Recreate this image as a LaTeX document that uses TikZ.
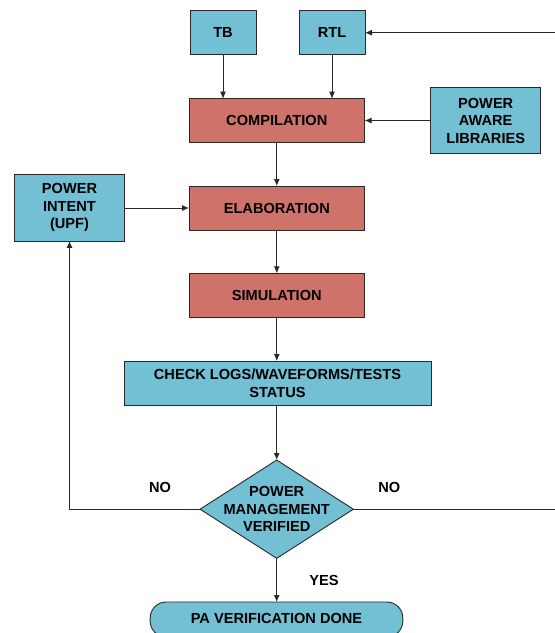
\documentclass[tikz,border=0pt]{standalone}
\usepackage{fontspec}
\setmainfont{Liberation Sans}
\usetikzlibrary{arrows.meta,shapes.geometric}
\definecolor{bluefill}{RGB}{115,191,211}
\definecolor{redfill}{RGB}{206,114,106}
\definecolor{edge}{RGB}{40,40,40}
\begin{document}
\begin{tikzpicture}[x=1pt,y=-1pt,
  every node/.style={font=\fontsize{14.6}{17.5}\selectfont\bfseries, align=center, inner sep=0pt, outer sep=0pt},
  bluebox/.style={draw=edge, line width=0.9pt, fill=bluefill},
  redbox/.style={draw=edge, line width=0.9pt, fill=redfill},
  arr/.style={draw=edge, line width=0.9pt, -{Latex[length=7pt,width=6pt]}},
  lbl/.style={}]
\useasboundingbox (0,0) rectangle (555,633);
\node[bluebox, minimum width=66pt, minimum height=44pt] (tb) at (223,32) {TB};
\node[bluebox, minimum width=66pt, minimum height=44pt] (rtl) at (332,32) {RTL};
\node[redbox, minimum width=175.5pt, minimum height=43.6pt] (comp) at (276.8,120.5) {COMPILATION};
\node[bluebox, minimum width=110pt, minimum height=66.4pt] (pal) at (485.7,120.5) {POWER\\AWARE\\LIBRARIES};
\node[bluebox, minimum width=109.6pt, minimum height=66.3pt] (pi) at (69.5,207.8) {POWER\\INTENT\\(UPF)};
\node[redbox, minimum width=175.5pt, minimum height=44pt] (elab) at (276.8,208) {ELABORATION};
\node[redbox, minimum width=175.5pt, minimum height=44pt] (sim) at (276.8,295.3) {SIMULATION};
\node[bluebox, minimum width=307pt, minimum height=44.3pt] (chk) at (277.5,383.2) {CHECK LOGS/WAVEFORMS/TESTS\\STATUS};
\node[bluebox, diamond, minimum width=153.3pt, minimum height=98.3pt] (dec) at (276.7,509.2) {};
\node (dectext) at (dec.center) {POWER\\MANAGEMENT\\VERIFIED};
\node[bluebox, rounded corners=16pt, minimum width=252.7pt, minimum height=35pt] (done) at (276.5,619.5) {};
\node (donetext) at (276.5,618) {PA VERIFICATION DONE};
\node[lbl] (no1) at (160,487) {NO};
\node[lbl] (no2) at (389.3,487) {NO};
\node[lbl] (yes) at (324,580) {YES};
\coordinate (rc1) at (556,509.2);
\coordinate (rc2) at (556,32.7);
\draw[arr] (tb.south) -- (tb.south |- comp.north);
\draw[arr] (rtl.south) -- (rtl.south |- comp.north);
\draw[arr] (pal.west) -- (pal.west -| comp.east);
\draw[arr] (comp.south) -- (elab.north);
\draw[arr] (pi.east |- elab.west) -- (elab.west);
\draw[arr] (elab.south) -- (sim.north);
\draw[arr] (sim.south) -- (sim.south |- chk.north);
\draw[arr] (chk.south -| dec.north) -- (dec.north);
\draw[arr] (dec.south) -- (dec.south |- done.north);
\draw[arr] (dec.west) -- (pi.south |- dec.west) -- (pi.south);
\draw[arr] (dec.east) -- (rc1) -- (rc2) -- (rtl.east |- rc2);
\end{tikzpicture}
\end{document}
